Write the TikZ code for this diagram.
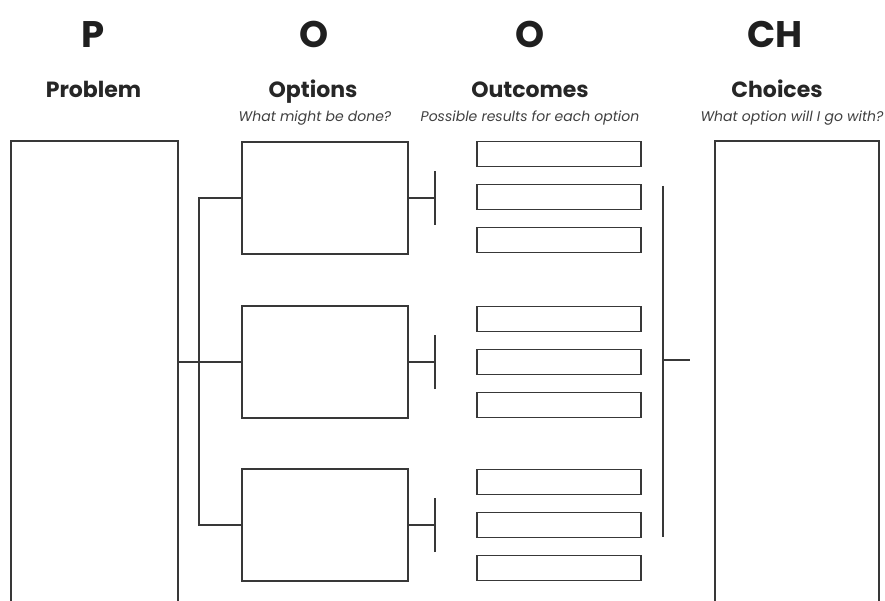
\documentclass[tikz,border=0pt]{standalone}
\usepackage{fontspec}
\setmainfont{Poppins}
\begin{document}
\begin{tikzpicture}[x=1pt,y=-1pt,
  ln/.style={line width=1.6pt,draw=black!78},
  bigbox/.style={ln,rectangle,inner sep=0pt,minimum width=166pt,minimum height=112pt},
  outbox/.style={ln,rectangle,inner sep=0pt,minimum width=164pt,minimum height=25pt},
  letter/.style={font=\fontsize{37}{40}\selectfont\bfseries,text=black!88,anchor=base,inner sep=0pt},
  head/.style={font=\fontsize{22}{24}\selectfont\bfseries,text=black!85,anchor=base,inner sep=0pt},
  sub/.style={font=\fontsize{14}{16}\selectfont\itshape,text=black!75,anchor=base,inner sep=0pt}]
\clip (0,0) rectangle (885,601);
\fill[white] (0,0) rectangle (885,601);
% headers
\node[letter] (lP) at (93,48) {P};
\node[letter] (lO1) at (314,48) {O};
\node[letter] (lO2) at (530,48) {O};
\node[letter] (lCH) at (775,48) {CH};
\node[head] (hP) at (93.5,98) {Problem};
\node[head] (hO1) at (313,98) {Options};
\node[head] (hO2) at (530,98) {Outcomes};
\node[head] (hCH) at (777,98) {Choices};
\node[sub] (sO1) at (315,122) {What might be done?};
\node[sub] (sO2) at (530,122) {Possible results for each option};
\node[sub] (sCH) at (792,122) {What option will I go with?};
% tall boxes
\node[ln,rectangle,inner sep=0pt,minimum width=167pt,minimum height=490pt] (prob) at (94.5,386) {};
\node[ln,rectangle,inner sep=0pt,minimum width=164pt,minimum height=490pt] (choice) at (797,386) {};
% option boxes
\node[bigbox] (opt1) at (325,198) {};
\node[bigbox] (opt2) at (325,362) {};
\node[bigbox] (opt3) at (325,525) {};
% outcome boxes
\foreach \g/\y in {1/154,2/319,3/482}{
  \node[outbox] (out\g a) at (559,\y) {};
  \node[outbox] (out\g b) at (559,\y+43) {};
  \node[outbox] (out\g c) at (559,\y+86) {};
}
% connectors
\coordinate (spine) at (199,0);
\draw[ln] (opt1.west) -- (opt1.west -| spine) -- (opt3.west -| spine) -- (opt3.west);
\draw[ln] (opt2.west) -- (opt2.west -| prob.east);
\foreach \i in {1,2,3}{
  \draw[ln] (opt\i.east) -- ++(26,0) coordinate (t\i);
  \draw[ln,line width=2pt] ([yshift=-27pt]t\i) -- ([yshift=27pt]t\i);
}
\coordinate (brtop) at (663,186);
\coordinate (brbot) at (663,537);
\coordinate (brmid) at (663,360);
\coordinate (brend) at (690,360);
\draw[ln] (brtop) -- (brbot);
\draw[ln] (brmid) -- (brend);
\end{tikzpicture}
\end{document}
